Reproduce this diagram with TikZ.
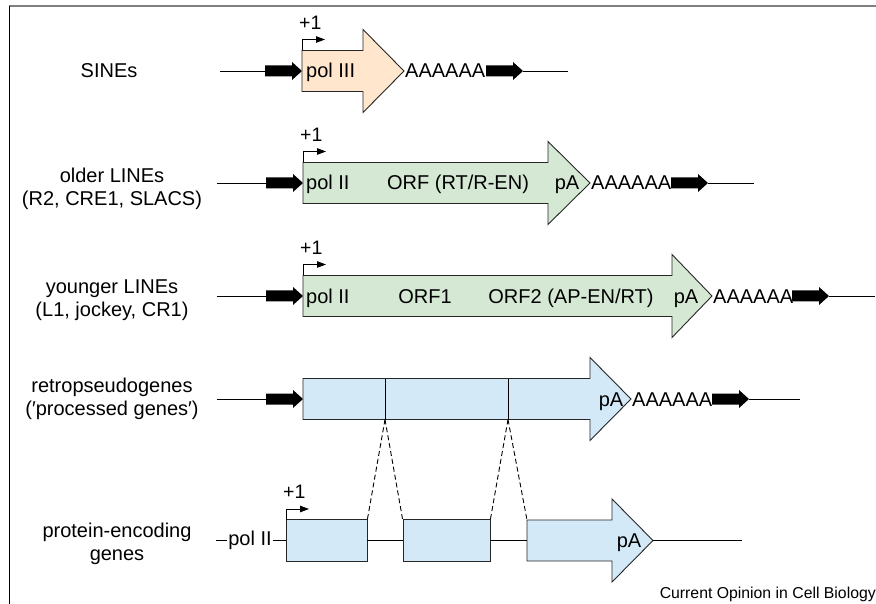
\documentclass[tikz,border=0pt]{standalone}
\usepackage{fontspec}
\setmainfont{Liberation Sans}
\usetikzlibrary{arrows.meta}
\definecolor{peach}{HTML}{FFE6CC}
\definecolor{lgreen}{HTML}{D5E8D4}
\definecolor{lblue}{HTML}{D3E9F8}
\definecolor{outl}{HTML}{262626}
\newcommand\bigarr[5]{%
  \filldraw[fill=#1, draw=outl, line width=0.9pt, line join=miter]
  (#2,#5-20.5) -- (#3,#5-20.5) -- (#3,#5-41.5) -- (#4,#5) -- (#3,#5+41.5) -- (#3,#5+20.5) -- (#2,#5+20.5) -- cycle;}
\newcommand\blkarr[2]{%
  \fill (#1,#2-5.5) -- (#1+27,#2-5.5) -- (#1+27,#2-9) -- (#1+37,#2) -- (#1+27,#2+9) -- (#1+27,#2+5.5) -- (#1,#2+5.5) -- cycle;}
\newcommand\plusone[3]{%
  \coordinate (#3a) at (#1,#2-20.5);
  \coordinate (#3b) at (#1,#2-31.5);
  \coordinate (#3c) at (#1+23,#2-31.5);
  \draw[line width=0.9pt, -{Triangle[length=9pt,width=6.5pt]}] (#3a) -- (#3b) -- (#3c);
  \node[lbl, font=\fontsize{19.5}{22}\selectfont, anchor=west] (#3t) at (#1-3,#2-48.5) {+1};}
\begin{document}
\begin{tikzpicture}[x=1pt,y=-1pt,
  lbl/.style={inner sep=0pt, font=\fontsize{20}{23}\selectfont},
  side/.style={lbl, align=center},
  thin/.style={line width=0.9pt, draw=black},
  exon/.style={draw=outl, fill=lblue, line width=0.9pt, minimum width=#1, minimum height=42pt, inner sep=0pt},
  ]
\useasboundingbox (0,0) rectangle (876,604);
% frame
\draw[gray, line width=2pt] (9,6.5) -- (876,6.5);
\draw[black, line width=1pt] (9.5,6) -- (9.5,604);

% ---------- Row 1: SINEs ----------
\node[side] (s1) at (109,71) {SINEs};
\coordinate (r1a) at (220,71);
\coordinate (r1b) at (265,71);
\draw[thin] (r1a) -- (r1b);
\blkarr{265}{71}
\bigarr{peach}{302}{363}{404}{71}
\plusone{302}{71}{p1}
\node[lbl, anchor=base west] (t1a) at (306,78) {pol III};
\node[lbl, anchor=base west] (t1b) at (405,78) {AAAAAA};
\blkarr{486}{71}
\coordinate (r1c) at (523,71);
\coordinate (r1d) at (568,71);
\draw[thin] (r1c) -- (r1d);

% ---------- Row 2: older LINEs ----------
\node[side] (s2) at (112,189) {older LINEs\\(R2, CRE1, SLACS)};
\coordinate (r2a) at (217,183);
\coordinate (r2b) at (267,183);
\draw[thin] (r2a) -- (r2b);
\blkarr{266}{183}
\bigarr{lgreen}{303}{548}{590}{183}
\plusone{303}{183}{p2}
\node[lbl, anchor=base west] (t2a) at (306,190) {pol II};
\node[lbl, anchor=base] (t2b) at (458,190) {ORF (RT/R-EN)};
\node[lbl, anchor=base] (t2c) at (567,190) {pA};
\node[lbl, anchor=base west] (t2d) at (591,190) {AAAAAA};
\blkarr{671}{183}
\coordinate (r2c) at (708,183);
\coordinate (r2d) at (754,183);
\draw[thin] (r2c) -- (r2d);

% ---------- Row 3: younger LINEs ----------
\node[side] (s3) at (112,300) {younger LINEs\\(L1, jockey, CR1)};
\coordinate (r3a) at (217,296);
\coordinate (r3b) at (267,296);
\draw[thin] (r3a) -- (r3b);
\blkarr{266}{296}
\bigarr{lgreen}{303}{672}{712}{296}
\plusone{303}{296}{p3}
\node[lbl, anchor=base west] (t3a) at (306,303) {pol II};
\node[lbl, anchor=base] (t3b) at (425,303) {ORF1};
\node[lbl, anchor=base] (t3c) at (571,303) {ORF2 (AP-EN/RT)};
\node[lbl, anchor=base] (t3d) at (686,303) {pA};
\node[lbl, anchor=base west] (t3e) at (713,303) {AAAAAA};
\blkarr{792}{296}
\coordinate (r3c) at (829,296);
\coordinate (r3d) at (875,296);
\draw[thin] (r3c) -- (r3d);

% ---------- Row 4: retropseudogenes ----------
\node[side] (s4) at (112,399) {retropseudogenes\\(′processed genes′)};
\coordinate (r4a) at (217,399);
\coordinate (r4b) at (267,399);
\draw[thin] (r4a) -- (r4b);
\blkarr{266}{399}
\bigarr{lblue}{303}{590}{631}{399}
\coordinate (d1t) at (385,378.5);
\coordinate (d1b) at (385,419.5);
\coordinate (d2t) at (508,378.5);
\coordinate (d2b) at (508,419.5);
\draw[thin] (d1t) -- (d1b);
\draw[thin] (d2t) -- (d2b);
\node[lbl, anchor=base] (t4a) at (611,406) {pA};
\node[lbl, anchor=base west] (t4b) at (632,406) {AAAAAA};
\blkarr{712}{399}
\coordinate (r4c) at (749,399);
\coordinate (r4d) at (800,399);
\draw[thin] (r4c) -- (r4d);

% ---------- Row 5: protein-encoding genes ----------
\node[side] (s5) at (117,544) {protein-encoding\\genes};
\coordinate (r5a) at (216,540.5);
\node[lbl, inner xsep=1.5pt] (pol) at (250,540.5) {pol II};
\node[exon=81pt] (ex1) at (326.5,540.5) {};
\node[exon=87pt] (ex2) at (446.5,540.5) {};
\draw[thin] (r5a) -- (pol.west);
\draw[thin] (pol.east) -- (ex1.west);
\bigarr{lblue}{527}{612}{653}{540.5}
\coordinate (ex3w) at (527,540.5);
\coordinate (ex3tl) at (527,520);
\coordinate (ex3t) at (653,540.5);
\coordinate (r5d) at (742,540.5);
\draw[thin] (ex1.east) -- (ex2.west);
\draw[thin] (ex2.east) -- (ex3w);
\draw[thin] (ex3t) -- (r5d);
\plusone{286}{540.5}{p5}
\node[lbl, anchor=base] (t5a) at (629,547.5) {pA};

% dashed splice lines
\draw[thin, dash pattern=on 5pt off 3pt] (d1b) -- (ex1.north east);
\draw[thin, dash pattern=on 5pt off 3pt] (d1b) -- (ex2.north west);
\draw[thin, dash pattern=on 5pt off 3pt] (d2b) -- (ex2.north east);
\draw[thin, dash pattern=on 5pt off 3pt] (d2b) -- (ex3tl);

% credit
\node[inner sep=0pt, anchor=base east, font=\fontsize{15.8}{18}\selectfont] (cr) at (876,598) {Current Opinion in Cell Biology};
\end{tikzpicture}
\end{document}
